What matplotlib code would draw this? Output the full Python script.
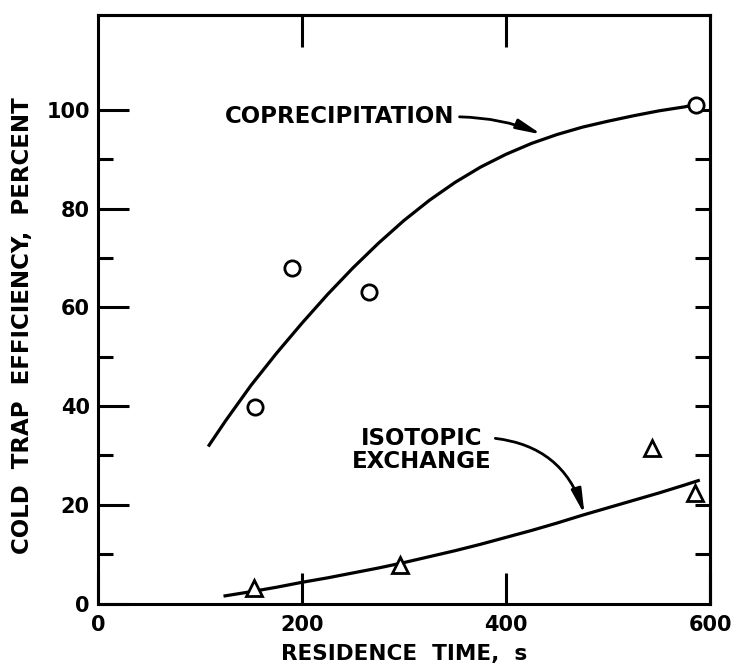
import matplotlib.pyplot as plt
import numpy as np

# maalte punkter
kopresip_tid = [154, 190, 266, 586]
kopresip_eff = [39.8, 68, 63.1, 101]
isotop_tid = [153, 296, 543, 585]
isotop_eff = [3.1, 7.8, 31.5, 22.4]

# tilpassede kurver (lest av figuren)
kurve1_tid = [108, 125, 150, 175, 200, 225, 250, 275, 300, 325, 350,
              375, 400, 425, 450, 475, 500, 525, 550, 575, 584]
kurve1_eff = [31.8, 37.0, 44.2, 50.7, 56.8, 62.6, 68.0, 73.0, 77.6, 81.7, 85.3,
              88.4, 91.0, 93.2, 95.0, 96.5, 97.7, 98.8, 99.8, 100.6, 101.0]
kurve2_tid = [123, 150, 175, 200, 225, 250, 275, 300, 325, 350,
              375, 400, 425, 450, 475, 500, 525, 550, 575, 590]
kurve2_eff = [1.5, 2.4, 3.3, 4.3, 5.2, 6.2, 7.2, 8.3, 9.5, 10.7,
              12.0, 13.4, 14.8, 16.3, 17.9, 19.4, 20.9, 22.4, 24.0, 25.0]

x_ticks = [0, 200, 400, 600]
y_ticks = [0, 20, 40, 60, 80, 100]

plt.rcParams["font.family"] = "DejaVu Sans"
plt.rcParams["font.weight"] = "bold"

fig = plt.figure(figsize=(7.36, 6.66), dpi=100)
ax = fig.add_axes([0.1332, 0.0938, 0.8315, 0.8836])

ax.plot(kurve1_tid, kurve1_eff, color="black", lw=2.3, solid_capstyle="butt")
ax.plot(kurve2_tid, kurve2_eff, color="black", lw=2.3, solid_capstyle="butt")
ax.plot(kopresip_tid, kopresip_eff, "o", ms=11, mfc="white", mec="black", mew=2, clip_on=False)
ax.plot(isotop_tid, isotop_eff, "^", ms=11, mfc="white", mec="black", mew=2, clip_on=False)

# tekst med piler
pil = "-|>,head_length=0.9,head_width=0.18"
ax.annotate("COPRECIPITATION", xy=(435, 95), xytext=(349, 98.6),
            ha="right", va="center", fontsize=16.5, fontweight="bold",
            arrowprops=dict(arrowstyle=pil, connectionstyle="arc3,rad=-0.1",
                            color="black", lw=2, shrinkA=2, shrinkB=0,
                            relpos=(1.0, 0.5)))
ax.annotate("ISOTOPIC\nEXCHANGE", xy=(477, 18), xytext=(317, 31.1),
            ha="center", va="center", fontsize=16.5, fontweight="bold", linespacing=0.95,
            arrowprops=dict(arrowstyle=pil, connectionstyle="arc3,rad=-0.35",
                            color="black", lw=2, shrinkA=1, shrinkB=0,
                            relpos=(0.94, 0.78)))

ax.set_xlim(0, 600)
ax.set_ylim(0, 119.2)

for s in ax.spines.values():
    s.set_linewidth(2.2)

ax.set_xticks(x_ticks)
ax.set_yticks(y_ticks)
ax.set_yticks([10, 30, 50, 70, 90], minor=True)
ax.tick_params(axis="both", which="major", direction="in", length=22, width=2.2,
               labelsize=15, pad=6)
ax.tick_params(axis="x", pad=8)
ax.tick_params(axis="y", which="minor", direction="in", length=11, width=2.2)

# hoyre side: korte merker hver 10.
hoyre = ax.secondary_yaxis("right")
hoyre.set_yticks(np.arange(10, 110, 10))
hoyre.tick_params(direction="in", length=11, width=2.2, labelright=False)
hoyre.spines["right"].set_linewidth(2.2)

# toppen: merker ved 200 og 400
topp = ax.secondary_xaxis("top")
topp.set_xticks([200, 400])
topp.tick_params(direction="in", length=23, width=2.2, labeltop=False)
topp.spines["top"].set_linewidth(2.2)

ax.set_xlabel("RESIDENCE  TIME,  s", fontsize=15.5, fontweight="bold")
ax.set_ylabel("COLD  TRAP  EFFICIENCY,  PERCENT", fontsize=16.5, fontweight="bold")
ax.xaxis.set_label_coords(0.5, -0.069)
ax.yaxis.set_label_coords(-0.105, 0.4715)

plt.savefig("out.png", dpi=100)
